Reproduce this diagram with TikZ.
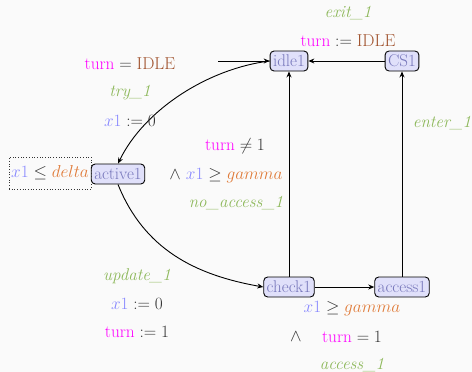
\documentclass[tikz,border=0pt]{standalone}
\usepackage{xcolor}
\usetikzlibrary{arrows.meta}
\definecolor{bg}{HTML}{FAFAFA}
\definecolor{cturn}{HTML}{FF00FF}
\definecolor{cidle}{HTML}{A0522D}
\definecolor{cx}{HTML}{8888FF}
\definecolor{corg}{HTML}{E07B39}
\definecolor{cgrn}{HTML}{8DB85A}
\definecolor{nfill}{HTML}{E0E0FA}
\definecolor{ntext}{HTML}{7777BB}
\definecolor{cop}{HTML}{333333}
\newcommand{\vT}{\textcolor{cturn}{\mathrm{turn}}}
\newcommand{\vX}{\textcolor{cx}{x1}}
\newcommand{\vI}{\textcolor{cidle}{\mathrm{IDLE}}}
\newcommand{\vG}{\textcolor{corg}{gamma}}
\newcommand{\vD}{\textcolor{corg}{delta}}
\begin{document}
\begin{tikzpicture}[x=1pt,y=-1pt,
  every node/.style={font=\fontsize{17}{20}\selectfont},
  state/.style={draw=black, line width=0.9pt, fill=nfill, rounded corners=4pt, text=ntext, inner sep=3pt, minimum height=20pt},
  lbl/.style={inner sep=0pt, text=cop},
  grn/.style={inner sep=0pt, text=cgrn, font=\fontsize{17}{20}\selectfont\itshape},
  edge/.style={line width=0.9pt, -{Stealth[length=6pt,width=5pt]}}]
\fill[bg] (0,0) rectangle (472,372);
\useasboundingbox (0,0) rectangle (472,372);

\node[state] (idle1) at (289,61) {idle1};
\node[state] (CS1) at (402,61) {CS1};
\node[state] (active1) at (118,174) {active1};
\node[state] (check1) at (289,287) {check1};
\node[state] (access1) at (402,287) {access1};

\coordinate (init) at (218,61);
\draw[edge] (init) -- (idle1.west);
\draw[edge] (idle1.west) to[out=187, in=64, looseness=0.85] (active1.north);
\draw[edge] (active1.south) to[out=-68, in=170] (check1.west);
\draw[edge] (check1) -- (idle1);
\draw[edge] (check1) -- (access1);
\draw[edge] (access1) -- (CS1);
\draw[edge] (CS1) -- (idle1);

% idle1 <- CS1
\node[grn] at (348,13) {exit\_1};
\node[lbl] at (348,41) {$\vT := \vI$};
% access1 -> CS1
\node[grn] at (442,123) {enter\_1};
% idle1 -> active1
\node[lbl] at (130,64) {$\vT = \vI$};
\node[grn] at (130,93) {try\_1};
\node[lbl] at (130,121) {$\vX := 0$};
% check1 -> idle1
\node[lbl] at (235,146) {$\vT \neq 1$};
\node[lbl] at (226,176) {$\land\ \vX \geq \vG$};
\node[grn] at (236,203) {no\_access\_1};
% invariant
\node[lbl, draw=cop, dotted, line width=0.7pt, minimum width=82pt, minimum height=32pt] (inv) at (50,173) {$\vX \leq \vD$};
% active1 -> check1
\node[grn] at (137,276) {update\_1};
\node[lbl] at (137,304) {$\vX := 0$};
\node[lbl] at (137,332) {$\vT := 1$};
% check1 -> access1
\node[lbl] at (352,309) {$\vX \geq \vG$};
\node[lbl] at (296,337) {$\land$};
\node[lbl] at (352,337) {$\vT = 1$};
\node[grn] at (352,365) {access\_1};
\end{tikzpicture}
\end{document}
